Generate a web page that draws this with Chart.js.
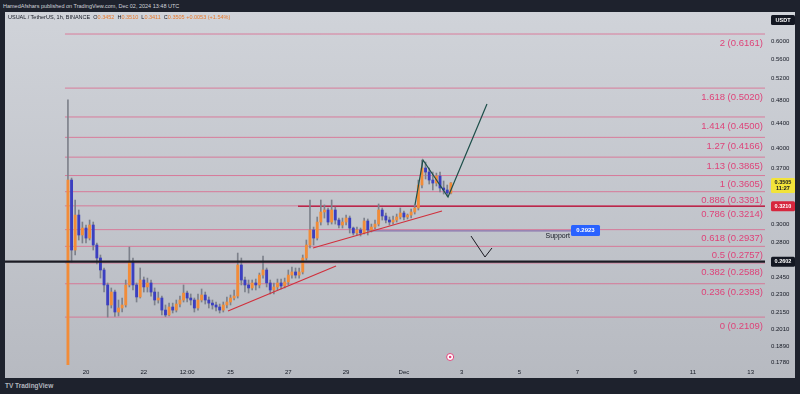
<!DOCTYPE html>
<html><head><meta charset="utf-8">
<script src="https://cdn.jsdelivr.net/npm/chart.js@4.4.1/dist/chart.umd.min.js"></script>
<style>
html,body{margin:0;padding:0;background:#1e222d;width:800px;height:394px;overflow:hidden;font-family:"Liberation Sans",Arial,sans-serif}
#top{position:absolute;left:3px;top:0;height:12px;line-height:12px;font-size:5.5px;color:#d1d4dc;white-space:nowrap}
#wrap{position:absolute;left:5px;top:12px;width:790px;height:366px;background:linear-gradient(#d0d3d9,#b7bac1)}
#hdr{position:absolute;left:8px;top:14px;font-size:5.5px;line-height:7px;color:#131722;white-space:nowrap}
#hdr .v{color:#e8782a}
#logo{position:absolute;left:5px;top:382px;font-size:6.5px;color:#b2b5be;font-weight:bold;white-space:nowrap}
canvas{position:absolute;left:0;top:0}
</style></head>
<body>
<div id="top">HamedAfshars published on TradingView.com, Dec 02, 2024 13:48 UTC</div>
<div id="wrap"><canvas id="c" width="790" height="366"></canvas></div>
<div id="hdr">USUAL / TetherUS, 1h, BINANCE &nbsp;O<span class="v">0.3452</span> &nbsp;H<span class="v">0.3510</span> &nbsp;L<span class="v">0.3411</span> &nbsp;C<span class="v">0.3505</span> <span class="v">+0.0053 (+1.54%)</span></div>
<div id="logo">TV TradingView</div>
<script>
// time: days since Nov 20 00:00, 3h candles
const T0 = -0.625, STEP = 0.125;
const open = [.1600,.3544,.2719,.3104,.2878,.2955,.2845,.2989,.2771,.2638,
.2521,.2382,.2208,.2319,.2150,.2183,.2208,.2382,.2598,.2382,
.2276,.2427,.2364,.2400,.2319,.2250,.2267,.2166,.2126,.2191,
.2166,.2216,.2250,.2310,.2267,.2250,.2183,.2250,.2293,.2250,
.2224,.2208,.2191,.2166,.2208,.2233,.2267,.2284,.2569,.2427,
.2382,.2355,.2400,.2382,.2473,.2521,.2400,.2337,.2364,.2400,
.2373,.2409,.2473,.2502,.2473,.2502,.2638,.2771,.2933,.2845,
.3023,.3140,.3164,.3023,.3164,.3046,.2989,.3023,.3069,.2955,
.2900,.2933,.2900,.3035,.2933,.2966,.3000,.3164,.3093,.3046,
.3023,.3046,.3081,.3128,.3081,.3104,.3140,.3188,.3478,.3709,
.3653,.3544,.3504,.3598,.3439,.3413,.3374];
const high = [.4800,.3571,.3286,.3164,.3023,.2989,.3046,.3023,.2792,.2668,
.2540,.2400,.2355,.2337,.2250,.2267,.2427,.2750,.2638,.2400,
.2540,.2455,.2445,.2427,.2355,.2319,.2284,.2208,.2224,.2224,
.2250,.2284,.2382,.2328,.2302,.2267,.2302,.2346,.2319,.2276,
.2250,.2233,.2216,.2233,.2276,.2293,.2337,.2688,.2638,.2455,
.2427,.2427,.2436,.2492,.2658,.2540,.2427,.2400,.2436,.2436,
.2445,.2521,.2549,.2540,.2540,.2668,.2824,.3286,.2966,.3081,
.3286,.3225,.3188,.3286,.3200,.3069,.3069,.3104,.3093,.2966,
.2966,.2955,.3069,.3058,.3000,.3046,.3237,.3188,.3128,.3081,
.3093,.3116,.3188,.3152,.3116,.3176,.3225,.3544,.3823,.3794,
.3709,.3653,.3639,.3653,.3531,.3478,.3510];
const low = [.1600,.2598,.2668,.2824,.2792,.2792,.2824,.2719,.2579,.2445,
.2319,.2109,.2183,.2115,.2118,.2150,.2191,.2364,.2337,.2233,
.2267,.2319,.2319,.2284,.2208,.2224,.2126,.2112,.2118,.2142,
.2150,.2191,.2233,.2233,.2208,.2150,.2166,.2233,.2216,.2183,
.2174,.2158,.2142,.2150,.2183,.2208,.2250,.2267,.2382,.2319,
.2310,.2337,.2337,.2355,.2445,.2364,.2302,.2302,.2337,.2346,
.2355,.2382,.2445,.2445,.2445,.2483,.2618,.2740,.2771,.2824,
.2989,.3069,.2989,.3000,.3000,.2955,.2955,.2989,.2900,.2878,
.2878,.2867,.2889,.2878,.2911,.2944,.2978,.3046,.3012,.2989,
.3000,.3023,.3058,.3046,.3058,.3069,.3116,.3164,.3439,.3558,
.3491,.3413,.3465,.3387,.3361,.3336,.3361];
const close = [.3544,.2719,.3104,.2878,.2955,.2845,.2989,.2771,.2638,.2521,
.2382,.2208,.2319,.2150,.2183,.2208,.2382,.2598,.2382,.2276,
.2427,.2364,.2400,.2319,.2250,.2267,.2166,.2126,.2191,.2166,
.2216,.2250,.2310,.2267,.2250,.2183,.2250,.2293,.2250,.2224,
.2208,.2191,.2166,.2208,.2233,.2267,.2284,.2569,.2427,.2382,
.2355,.2400,.2382,.2473,.2521,.2400,.2337,.2364,.2400,.2373,
.2409,.2473,.2502,.2473,.2502,.2638,.2771,.2933,.2845,.3023,
.3140,.3164,.3023,.3164,.3046,.2989,.3023,.3069,.2955,.2900,
.2933,.2900,.3035,.2933,.2966,.3000,.3164,.3093,.3046,.3023,
.3046,.3081,.3128,.3081,.3104,.3140,.3188,.3478,.3709,.3653,
.3544,.3504,.3598,.3439,.3413,.3374,.3505];

const xTickPos = [0,2,3.5,5,7,9,11,13,15,17,19,21,23];
const xTickLabels = ['20','22','12:00','25','27','29','Dec','3','5','7','9','11','13'];
const yTicks = [0.178,0.189,0.201,0.215,0.23,0.245,0.28,0.3,0.37,0.4,0.44,0.48,0.52,0.56,0.6];

const fibRatios = ['0','0.236','0.382','0.5','0.618','0.786','0.886','1','1.13','1.27','1.414','1.618','2'];
const fibPrices = [0.2109,0.2393,0.2588,0.2757,0.2937,0.3214,0.3391,0.3605,0.3865,0.4166,0.4500,0.5020,0.6161];
const fibStart = -0.727;

const trend1X = [4.913, 8.651], trend1Y = [0.2158, 0.2559];
const trend2X = [7.855, 12.318], trend2Y = [0.2740, 0.3152];
const pathX = [11.384, 11.661, 12.526, 13.875], pathY = [0.3225, 0.3823, 0.3324, 0.4727];
const vX = [13.322, 13.806, 14.048], vY = [0.2867, 0.2648, 0.2740];
const supportX = [9.723, 16.817], supportPrice = 0.2923;
const blackLinePrice = 0.2602;
const redLinePrice = 0.3210, redLineStart = 7.336;
const lastPrice = 0.3505, lastTimeLeft = '11:27';
const eventTime = 12.6;

const X_MIN = -2.803, X_MAX = 23.495, Y_MIN = 0.17591, Y_MAX = 0.6697;
const UP = '#f28c38', DOWN = '#3b3fc0', WICK = '#7d818b';

const times = open.map((_, i) => T0 + i * STEP);
const pts = (xs, ys) => xs.map((x, i) => ({x, y: ys[i]}));

const datasets = [];
datasets.push({type:'line', data: pts(trend1X, trend1Y), borderColor:'#d0303c', borderWidth:1.2, pointRadius:0, order:0});
datasets.push({type:'line', data: pts(trend2X, trend2Y), borderColor:'#d0303c', borderWidth:1.2, pointRadius:0, order:0});
datasets.push({type:'line', data: pts(pathX, pathY), borderColor:'#1d4f4a', borderWidth:1.2, pointRadius:0, order:0});
datasets.push({type:'line', data: pts(vX, vY), borderColor:'#1a1a22', borderWidth:1, pointRadius:0, order:0});
datasets.push({type:'line', data: [{x:X_MIN, y:blackLinePrice},{x:X_MAX, y:blackLinePrice}], borderColor:'#1c1c24', borderWidth:2.2, pointRadius:0, order:0});
datasets.push({type:'bar', data: times.map((t,i)=>({x:t, y:[low[i], high[i]]})), backgroundColor: WICK, barThickness:1, grouped:false, order:2});
datasets.push({type:'bar', data: times.map((t,i)=>({x:t, y:[open[i], close[i]]})), backgroundColor: close.map((c,i)=> c >= open[i] ? UP : DOWN), barThickness:2.2, minBarLength:1, grouped:false, order:1});
datasets.push({type:'line', data: [{x:redLineStart, y:redLinePrice},{x:X_MAX, y:redLinePrice}], borderColor:'#b8284a', borderWidth:1.5, pointRadius:0, order:5});
datasets.push({type:'line', data: pts(supportX, [supportPrice, supportPrice]), borderColor:'#7a5fa6', borderWidth:1, pointRadius:0, order:5});
fibPrices.forEach(p => datasets.push({type:'line', data: [{x:fibStart, y:p},{x:X_MAX, y:p}], borderColor:'rgba(222,96,136,0.75)', borderWidth:1, pointRadius:0, order:6}));

function box(ctx, x, y, w, h, bg) { ctx.fillStyle = bg; ctx.beginPath(); ctx.roundRect ? ctx.roundRect(x, y, w, h, 1.5) : ctx.rect(x, y, w, h); ctx.fill(); }

const overlay = {
  id: 'overlay',
  afterDraw(chart) {
    const {ctx, chartArea: a, scales: {x, y}} = chart;
    ctx.save();
    ctx.beginPath(); ctx.rect(a.left, a.top, a.width, a.height); ctx.clip();
    ctx.font = '9.5px "Liberation Sans", Arial, sans-serif';
    ctx.fillStyle = '#de4379'; ctx.textAlign = 'right'; ctx.textBaseline = 'middle';
    fibRatios.forEach((r, i) => {
      const py = y.getPixelForValue(fibPrices[i]);
      ctx.fillText(r + ' (' + fibPrices[i].toFixed(4) + ')', a.right - 2, py + 9);
    });
    const sx = x.getPixelForValue(supportX[1]), sy = y.getPixelForValue(supportPrice);
    box(ctx, sx - 1, sy - 6, 29, 11, '#2962ff');
    ctx.font = 'bold 6px "Liberation Sans", Arial, sans-serif';
    ctx.fillStyle = '#ffffff'; ctx.textAlign = 'center';
    ctx.fillText(supportPrice.toFixed(4), sx + 13.5, sy - 0.5);
    ctx.font = '7px "Liberation Sans", Arial, sans-serif';
    ctx.fillStyle = '#131722'; ctx.textAlign = 'right';
    ctx.fillText('Support', sx - 2, sy + 5);
    const ex = x.getPixelForValue(eventTime), ey = a.bottom - 8;
    ctx.beginPath(); ctx.arc(ex, ey, 3.5, 0, Math.PI * 2);
    ctx.fillStyle = '#ffffff'; ctx.fill(); ctx.strokeStyle = '#e0457b'; ctx.lineWidth = 1; ctx.stroke();
    ctx.beginPath(); ctx.arc(ex, ey, 1.3, 0, Math.PI * 2); ctx.fillStyle = '#e0457b'; ctx.fill();
    ctx.restore();

    ctx.save();
    const bx = a.right + 6, bw = 24;
    ctx.textAlign = 'center'; ctx.textBaseline = 'middle';
    ctx.font = 'bold 5.5px "Liberation Sans", Arial, sans-serif';
    box(ctx, bx, 3, bw, 10, '#131722'); ctx.fillStyle = '#ffffff'; ctx.fillText('USDT', bx + bw/2, 8);
    const ly = y.getPixelForValue(lastPrice);
    box(ctx, bx, ly - 5, bw, 15, '#f2e33a'); ctx.fillStyle = '#131722';
    ctx.fillText(lastPrice.toFixed(4), bx + bw/2, ly - 0.5);
    ctx.fillText(lastTimeLeft, bx + bw/2, ly + 6);
    const ry = y.getPixelForValue(redLinePrice);
    box(ctx, bx, ry - 5, bw, 10, '#d7263d'); ctx.fillStyle = '#ffffff'; ctx.fillText(redLinePrice.toFixed(4), bx + bw/2, ry);
    const ky = y.getPixelForValue(blackLinePrice);
    box(ctx, bx, ky - 5, bw, 10, '#131722'); ctx.fillStyle = '#ffffff'; ctx.fillText(blackLinePrice.toFixed(4), bx + bw/2, ky);
    ctx.restore();
  }
};

new Chart(document.getElementById('c'), {
  type: 'bar',
  data: { datasets },
  options: {
    responsive: false, maintainAspectRatio: false, animation: false, devicePixelRatio: 1,
    events: [], layout: { padding: 0 },
    plugins: { legend: { display: false }, tooltip: { enabled: false } },
    elements: { line: { tension: 0, fill: false } },
    scales: {
      x: {
        type: 'linear', min: X_MIN, max: X_MAX, offset: false,
        grid: { display: false, drawTicks: false, offset: false }, border: { display: false },
        afterBuildTicks(s) { s.ticks = xTickPos.map(v => ({ value: v })); },
        afterFit(s) { s.height = 13; s.paddingLeft = 0; s.paddingRight = 0; },
        ticks: { autoSkip: false, maxRotation: 0, padding: 4, color: '#131722',
          font: { size: 6, family: '"Liberation Sans", Arial, sans-serif' },
          callback: v => { const i = xTickPos.indexOf(v); return i >= 0 ? xTickLabels[i] : ''; } }
      },
      y: {
        type: 'logarithmic', position: 'right', min: Y_MIN, max: Y_MAX,
        grid: { display: false, drawTicks: false }, border: { display: false },
        afterBuildTicks(s) { s.ticks = yTicks.map(v => ({ value: v })); },
        afterFit(s) { s.width = 30; s.paddingTop = 0; s.paddingBottom = 0; },
        ticks: { padding: 6, color: '#131722', autoSkip: false,
          font: { size: 6, family: '"Liberation Sans", Arial, sans-serif' },
          callback: v => Number(v).toFixed(4) }
      }
    }
  },
  plugins: [overlay]
});
</script>
</body></html>
